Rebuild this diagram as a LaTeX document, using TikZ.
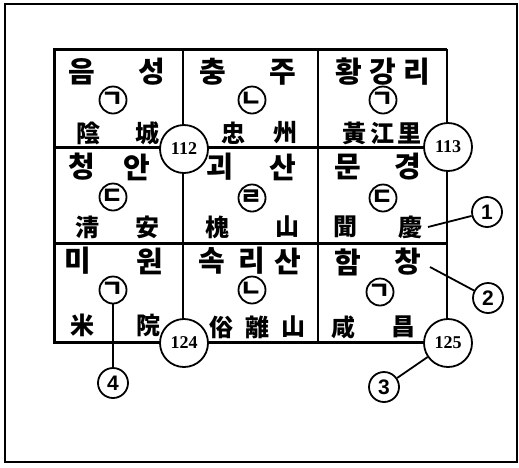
\documentclass[tikz,border=0pt]{standalone}
\usepackage{fontspec}
\newfontfamily\kr{Noto Sans CJK KR}
\newfontfamily\numfont{Liberation Sans}
\setmainfont{Liberation Serif}
\begin{document}
\begin{tikzpicture}[x=1pt,y=-1pt,
  kor/.style={inner sep=0pt,font=\kr\bfseries\fontsize{29}{29}\selectfont},
  han/.style={inner sep=0pt,font=\kr\bfseries\fontsize{24}{24}\selectfont},
  jamo/.style={circle,draw,line width=1.8pt,minimum size=27pt,inner sep=0pt,font=\kr\bfseries\fontsize{24}{24}\selectfont},
  big/.style={circle,draw,fill=white,line width=1.8pt,minimum size=48pt,inner sep=0pt,font=\bfseries\fontsize{18}{18}\selectfont},
  num/.style={circle,draw,fill=white,line width=1.8pt,minimum size=30pt,inner sep=0pt,font=\numfont\bfseries\fontsize{21}{21}\selectfont},
  grid/.style={line width=3pt},
  thin/.style={line width=1.8pt}]
\useasboundingbox (0,0) rectangle (519,467);
\draw[line width=2pt] (5,4) rectangle (517,462);
% grid
\draw[grid] (447,49) -- (54,49) -- (54,342) -- (447,342);
\draw[thin] (447,49) -- (447,342);
\draw[grid] (54,147) -- (447,147);
\draw[grid] (54,243) -- (447,243);
\draw[thin] (183,49) -- (183,342);
\draw[thin] (318,49) -- (318,342);
% row 1
\node[kor] (a1) at (82,72) {음};
\node[kor] (a2) at (152,72) {성};
\node[jamo] (aj) at (113,100) {ㄱ};
\node[han] (ah1) at (88,133) {陰};
\node[han] (ah2) at (147,133) {城};
\node[kor] (b1) at (213,72) {충};
\node[kor] (b2) at (283,72) {주};
\node[jamo] (bj) at (252,100) {ㄴ};
\node[han] (bh1) at (233,133) {忠};
\node[han] (bh2) at (285,133) {州};
\node[kor] (c1) at (349,72) {황};
\node[kor] (c2) at (383,72) {강};
\node[kor] (c3) at (417,72) {리};
\node[jamo] (cj) at (383,100) {ㄱ};
\node[han] (ch1) at (354,133) {黃};
\node[han] (ch2) at (382,133) {江};
\node[han] (ch3) at (409,133) {里};
% row 2
\node[kor] (d1) at (82,167) {청};
\node[kor] (d2) at (137,167) {안};
\node[jamo] (dj) at (113,197) {ㄷ};
\node[han] (dh1) at (87,227) {淸};
\node[han] (dh2) at (147,227) {安};
\node[kor] (e1) at (220,167) {괴};
\node[kor] (e2) at (283,167) {산};
\node[jamo] (ej) at (252,198) {ㄹ};
\node[han] (eh1) at (217,227) {槐};
\node[han] (eh2) at (287,227) {山};
\node[kor] (f1) at (348,167) {문};
\node[kor] (f2) at (408,167) {경};
\node[jamo] (fj) at (383,198) {ㄷ};
\node[han] (fh1) at (345,227) {聞};
\node[han] (fh2) at (410,227) {慶};
% row 3
\node[kor] (g1) at (78,261) {미};
\node[kor] (g2) at (150,261) {원};
\node[jamo] (gj) at (113,290) {ㄱ};
\node[han] (gh1) at (82,325) {米};
\node[han] (gh2) at (148,325) {院};
\node[kor] (h1) at (212,261) {속};
\node[kor] (h2) at (252,261) {리};
\node[kor] (h3) at (288,261) {산};
\node[jamo] (hj) at (252,290) {ㄴ};
\node[han] (hh1) at (221,327) {俗};
\node[han] (hh2) at (257,327) {離};
\node[han] (hh3) at (293,327) {山};
\node[kor] (i1) at (348,262) {함};
\node[kor] (i2) at (408,262) {창};
\node[jamo] (ij) at (380,292) {ㄱ};
\node[han] (ih1) at (343,327) {咸};
\node[han] (ih2) at (403,327) {昌};
% big circles
\node[big] (n112) at (184,149) {112};
\node[big] (n113) at (448,147) {113};
\node[big] (n124) at (184,343) {124};
\node[big] (n125) at (448,343) {125};
% callouts
\coordinate (p1) at (428,227);
\coordinate (p2) at (430,267);
\node[num] (m1) at (487,212) {1};
\node[num] (m2) at (488,298) {2};
\node[num] (m3) at (384,387) {3};
\node[num] (m4) at (113,383) {4};
\draw[thin] (m1) -- (p1);
\draw[thin] (p2) -- (m2);
\draw[thin] (m3) -- (n125);
\draw[thin] (gj.south) -- (m4);
\end{tikzpicture}
\end{document}
